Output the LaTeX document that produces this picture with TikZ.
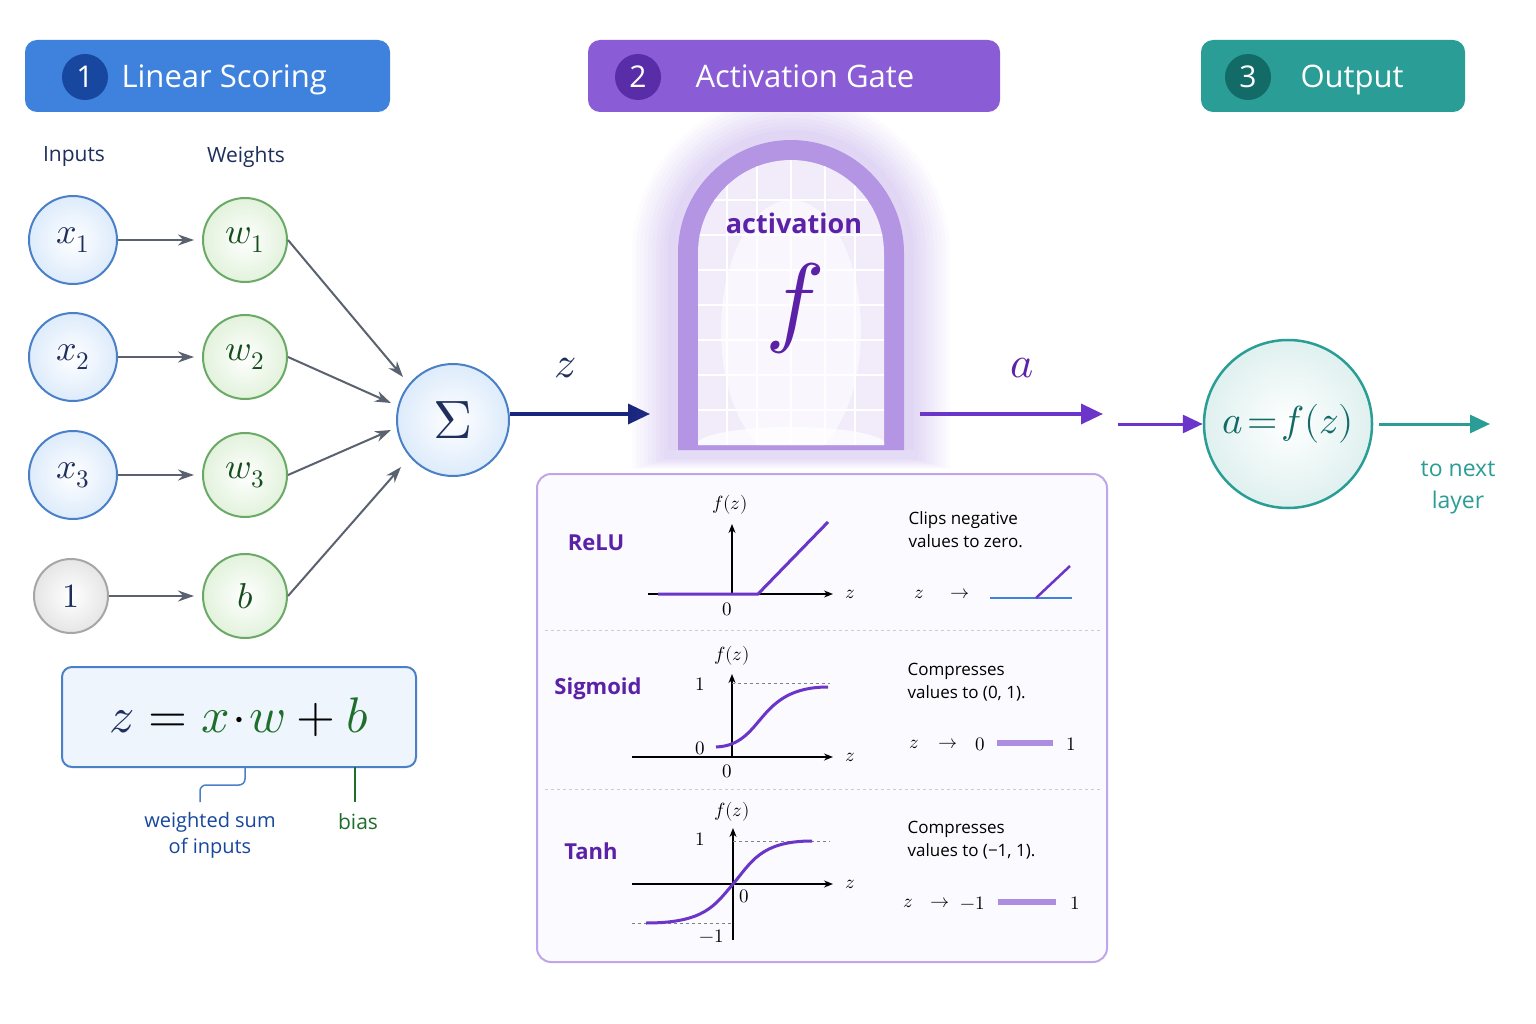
\documentclass[tikz,border=0pt]{standalone}
\usepackage{unicode-math}
\setmainfont{Open Sans}
\setmathfont{Latin Modern Math}
\usetikzlibrary{arrows.meta}
\definecolor{tblue}{HTML}{3F82DE}\definecolor{tbluedk}{HTML}{17479E}
\definecolor{tpur}{HTML}{8A5CD6}\definecolor{tpurdk}{HTML}{5A2DA8}
\definecolor{tteal}{HTML}{2A9D96}\definecolor{ttealdk}{HTML}{126B66}
\definecolor{inblue}{HTML}{DDEBFB}\definecolor{inbord}{HTML}{4A80C8}
\definecolor{wgreen}{HTML}{E2F2DC}\definecolor{wbord}{HTML}{6AAA66}
\definecolor{navy}{HTML}{1E2F5C}\definecolor{dgreen}{HTML}{1F6E2A}
\definecolor{purtxt}{HTML}{5B22A8}\definecolor{curve}{HTML}{6A35C8}
\definecolor{arrgray}{HTML}{5A6270}
\begin{document}
\begin{tikzpicture}[x=1pt,y=-1pt,
 title/.style={rounded corners=12pt,draw=none},
 num/.style={circle,minimum size=46pt,inner sep=0pt,text=white,font=\fontsize{30}{30}\selectfont},
 ttxt/.style={anchor=base west,text=white,font=\fontsize{31}{31}\selectfont},
 inp/.style={circle,minimum size=88pt,inner sep=0pt,draw=inbord,line width=2pt,inner color=white,outer color=inblue,text=navy,font=\fontsize{36}{36}\selectfont},
 wt/.style={circle,minimum size=84pt,inner sep=0pt,draw=wbord,line width=2pt,inner color=white,outer color=wgreen,text=dgreen!70!black,font=\fontsize{36}{36}\selectfont},
 ga/.style={-{Stealth[length=16pt,width=11pt]},arrgray,line width=2pt},
 big/.style={line width=3.5pt,-{Triangle[length=22pt,width=20pt]}},
 lbl/.style={font=\fontsize{21}{24}\selectfont},
 plab/.style={font=\fontsize{22}{22}\selectfont\bfseries,text=purtxt},
 note/.style={anchor=north west,align=left,font=\fontsize{17}{23}\selectfont},
 sm/.style={font=\fontsize{19}{19}\selectfont},
 ax/.style={line width=1.4pt,-{Stealth[length=9pt,width=7pt]}},
 cv/.style={curve,line width=3pt},
 dsh/.style={dashed,gray,line width=0.9pt},
 bar/.style={line width=6pt,color=tpur!70}]
\useasboundingbox (0,0) rectangle (1536,1024);
\fill[white] (0,0) rectangle (1536,1024);
% titles
\fill[tblue,title] (25,40) rectangle (390,112);
\node[num,fill=tbluedk] (n1) at (85,77) {1};
\node[ttxt] (t1) at (118,88) {Linear Scoring};
\fill[tpur,title] (588,40) rectangle (1000,112);
\node[num,fill=tpurdk] (n2) at (638,77) {2};
\node[ttxt] (t2) at (692,88) {Activation Gate};
\fill[tteal,title] (1201,40) rectangle (1465,112);
\node[num,fill=ttealdk] (n3) at (1248,77) {3};
\node[ttxt] (t3) at (1297,88) {Output};
% inputs/weights
\node[lbl,text=navy] (li) at (74,157) {Inputs};
\node[lbl,text=navy] (lw) at (246,157) {Weights};
\node[inp] (x1) at (73,240) {$x_1$};
\node[inp] (x2) at (73,357) {$x_2$};
\node[inp] (x3) at (73,475) {$x_3$};
\node[circle,minimum size=74pt,inner sep=0pt,draw=gray!70,line width=2pt,inner color=white,outer color=gray!20,text=navy,font=\fontsize{34}{34}\selectfont] (one) at (71,596) {$1$};
\node[wt] (w1) at (245,240) {$w_1$};
\node[wt] (w2) at (245,357) {$w_2$};
\node[wt] (w3) at (245,475) {$w_3$};
\node[wt] (b) at (245,596) {$b$};
\node[circle,minimum size=112pt,inner sep=0pt,draw=inbord,line width=2pt,inner color=white,outer color=inblue,text=navy,font=\fontsize{54}{54}\selectfont] (sig) at (453,420) {$\Sigma$};
\foreach \a/\b in {x1/w1,x2/w2,x3/w3,one/b}{\draw[ga] (\a) -- ([xshift=-8pt]\b.west);}
\draw[ga] (w1.east) -- (403,377);
\draw[ga] (w2.east) -- (391,403);
\draw[ga] (w3.east) -- (391,430);
\draw[ga] (b.east) -- (401,467);
% z arrow
\coordinate (zend) at (650,414);
\draw[big,color=navy!80!blue] ([yshift=6pt]sig.east) -- (zend);
\node[font=\fontsize{44}{44}\selectfont,text=navy] (zl) at (565,368) {$z$};
% gate glow
\foreach \r in {4,8,...,36}{\fill[tpur,opacity=0.025] (668-\r,458+\r*0.3) -- (668-\r,253) arc[start angle=180,end angle=360,radius=123+\r] -- (914+\r,458+\r*0.3) -- cycle;}
\fill[tpur!25] (668,450) -- (668,253) arc[start angle=180,end angle=360,radius=123] -- (914,450) -- cycle;
\fill[tpur!65] (678,450) -- (678,253) arc[start angle=180,end angle=360,radius=113] -- (904,450) -- cycle;
\fill[tpur!12] (698,445) -- (698,253) arc[start angle=180,end angle=360,radius=93] -- (884,445) -- cycle;
\begin{scope}
\clip (698,445) -- (698,253) arc[start angle=180,end angle=360,radius=93] -- (884,445) -- cycle;
\fill[white,opacity=0.6] (791,330) ellipse (70 and 130);
\foreach \x in {727,757,791,825,855}{\draw[white,line width=2.5pt] (\x,150) -- (\x,445);}
\foreach \y in {200,235,270,305,340,375,410}{\draw[white,line width=2.5pt] (698,\y) -- (884,\y);}
\fill[white,opacity=0.7] (791,445) ellipse (95 and 18);
\end{scope}
\node[font=\fontsize{27}{27}\selectfont\bfseries,text=purtxt] (act) at (794,223) {activation};
\node[font=\fontsize{100}{100}\selectfont,text=purtxt] (f) at (794,308) {$f$};
% a arrow
\coordinate (astart) at (920,414);
\coordinate (aend) at (1103,414);
\draw[big,color=curve] (astart) -- (aend);
\node[font=\fontsize{44}{44}\selectfont,text=purtxt] (al) at (1022,368) {$a$};
\coordinate (a2s) at (1118,424);
\node[circle,minimum size=168pt,inner sep=0pt,draw=tteal,line width=2.5pt,inner color=white,outer color=tteal!15,text=ttealdk,font=\fontsize{39}{39}\selectfont] (out) at (1288,424) {$a\!=\!f(z)$};
\draw[line width=3pt,color=curve,-{Triangle[length=20pt,width=18pt]}] (a2s) -- (out.west);
\coordinate (oend) at (1490,424);
\draw[line width=3pt,color=tteal,-{Triangle[length=20pt,width=18pt]}] ([xshift=6pt]out.east) -- (oend);
\node[text=tteal,align=center,font=\fontsize{23}{32}\selectfont] (next) at (1458,488) {to next\\layer};
% formula
\node[draw=inbord,line width=2pt,rounded corners=10pt,fill=inblue!50,minimum width=354pt,minimum height=100pt,font=\fontsize{50}{50}\selectfont] (form) at (239,717) {$\textcolor{navy}{z} = \textcolor{dgreen}{x}\!\cdot\!\textcolor{dgreen}{w} + \textcolor{dgreen}{b}$};
\coordinate (ws) at (200,802);
\coordinate (bs) at (355,802);
\draw[inbord,line width=1.5pt,rounded corners=6pt] (245,767) -- (245,785) -- (200,785) -- (ws);
\draw[dgreen,line width=1.5pt] (355,767) -- (bs);
\node[text=tbluedk,align=center,font=\fontsize{20}{26}\selectfont] (wsl) at (210,835) {weighted sum\\of inputs};
\node[lbl,text=dgreen] (bl) at (358,822) {bias};
% panel
\draw[tpur!55,line width=2pt,rounded corners=14pt,fill=tpur!3] (537,474) rectangle (1107,962);
\draw[gray!40,dashed] (545,630) -- (1100,630);
\draw[gray!40,dashed] (545,789) -- (1100,789);
% ReLU
\node[plab] (relu) at (596,543) {ReLU};
\draw[ax] (648,594) -- (833,594);
\draw[ax] (732,594) -- (732,524);
\draw[cv] (658,594) -- (758,594) -- (828,522);
\node[sm] (rf) at (730,505) {$f(z)$};
\node[sm] (rz) at (850,594) {$z$};
\node[sm] (r0) at (727,609) {$0$};
\node[note] (rn) at (905,508) {Clips negative\\values to zero.};
\node[sm] (rmz) at (919,594) {$z$};
\node[sm] (rma) at (960,594) {$\rightarrow$};
\draw[tblue,line width=2pt] (990,598) -- (1072,598);
\draw[curve,line width=2.5pt] (1036,598) -- (1070,566);
% Sigmoid
\node[plab] (sg) at (598,689) {Sigmoid};
\draw[ax] (632,757) -- (833,757);
\draw[ax] (732,757) -- (732,674);
\draw[dsh] (732,683) -- (830,683);
\draw[cv] (716,747) .. controls (765,745) and (755,687) .. (828,687);
\node[sm] (sf) at (732,656) {$f(z)$};
\node[sm] (sz) at (850,757) {$z$};
\node[sm] (s1) at (700,684) {$1$};
\node[sm] (s0a) at (700,748) {$0$};
\node[sm] (s0b) at (727,771) {$0$};
\node[note] (sn) at (904,660) {Compresses\\values to (0, 1).};
\node[sm] (smz) at (914,744) {$z$};
\node[sm] (sma) at (948,744) {$\rightarrow$};
\node[sm] (sm0) at (980,744) {$0$};
\draw[bar] (997,743) -- (1053,743);
\node[sm] (sm1) at (1071,744) {$1$};
% Tanh
\node[plab] (th) at (591,851) {Tanh};
\draw[ax] (632,884) -- (833,884);
\draw[ax] (733,940) -- (733,828);
\draw[dsh] (733,841) -- (830,841);
\draw[dsh] (632,923) -- (733,923);
\draw[cv] (646,923) .. controls (705,923) and (715,905) .. (733,884) .. controls (751,863) and (760,841) .. (812,841);
\node[sm] (tf) at (732,812) {$f(z)$};
\node[sm] (tz) at (850,884) {$z$};
\node[sm] (t1) at (700,839) {$1$};
\node[sm] (t0) at (744,896) {$0$};
\node[sm] (tm1) at (712,936) {$-1$};
\node[note] (tn) at (904,818) {Compresses\\values to (−1, 1).};
\node[sm] (tmz) at (908,903) {$z$};
\node[sm] (tma) at (940,903) {$\rightarrow$};
\node[sm] (tmm) at (973,903) {$-1$};
\draw[bar] (998,902) -- (1056,902);
\node[sm] (tm1b) at (1075,903) {$1$};
\end{tikzpicture}
\end{document}
